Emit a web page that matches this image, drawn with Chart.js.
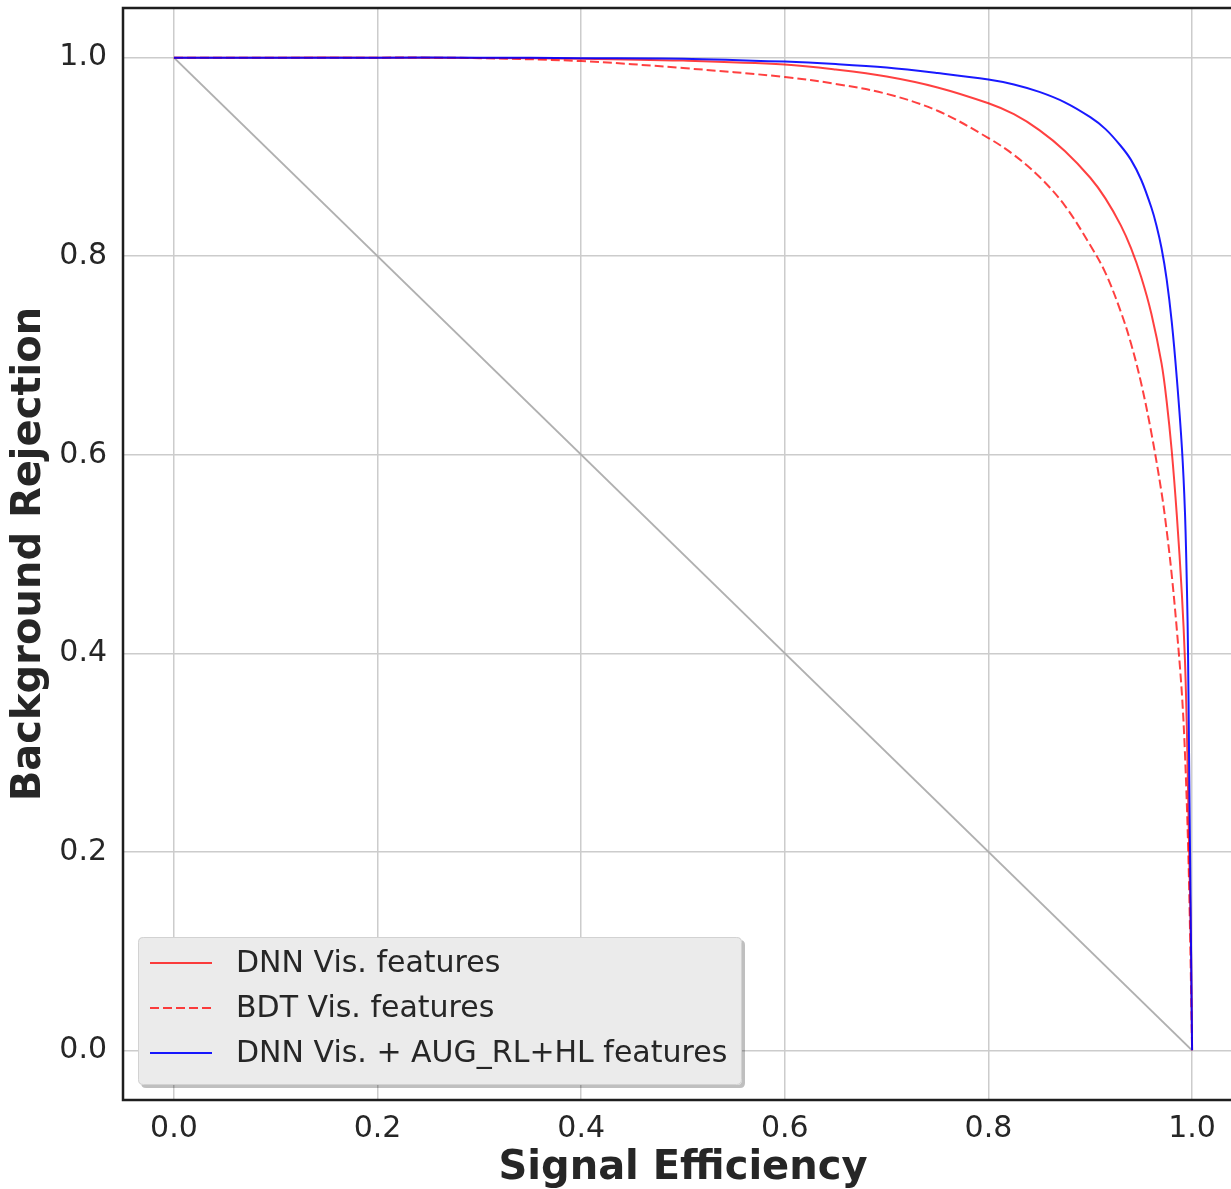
<!DOCTYPE html>
<html><head><meta charset="utf-8">
<script src="https://cdn.jsdelivr.net/npm/chart.js@4.4.0/dist/chart.umd.min.js"></script>
<style>html,body{margin:0;padding:0;background:#fff;overflow:hidden;width:1231px;height:1189px}canvas{display:block}</style>
</head><body>
<canvas id="c" width="1246" height="1189" style="width:1246px;height:1189px"></canvas>
<script>
// ---- data ----
const seriesLabels = ['DNN Vis. features', 'BDT Vis. features', 'DNN Vis. + AUG_RL+HL features'];
const xTickValues = [0.0, 0.2, 0.4, 0.6, 0.8, 1.0];
const yTickValues = [0.0, 0.2, 0.4, 0.6, 0.8, 1.0];

const dnnX = [0, 0.1, 0.2, 0.3, 0.4, 0.5, 0.6, 0.65, 0.7, 0.75, 0.8, 0.825, 0.85, 0.875, 0.9, 0.915, 0.93, 0.94, 0.95, 0.96, 0.97, 0.975, 0.98, 0.985, 0.99, 0.993, 0.995, 0.997, 0.999, 1.0];
const dnnY = [1, 1, 1, 0.9997, 0.999, 0.997, 0.993, 0.988, 0.981, 0.970, 0.954, 0.943, 0.927, 0.906, 0.879, 0.858, 0.831, 0.808, 0.779, 0.742, 0.692, 0.654, 0.604, 0.539, 0.459, 0.393, 0.317, 0.207, 0.097, 0.0];

const bdtX = [0, 0.1, 0.2, 0.25, 0.3, 0.4, 0.5, 0.6, 0.65, 0.7, 0.75, 0.8, 0.825, 0.85, 0.875, 0.9, 0.915, 0.93, 0.94, 0.95, 0.96, 0.97, 0.975, 0.98, 0.985, 0.99, 0.993, 0.996, 0.998, 1.0];
const bdtY = [1, 1, 1, 1, 0.9995, 0.9965, 0.9895, 0.9805, 0.9735, 0.9635, 0.9465, 0.919, 0.902, 0.880, 0.851, 0.811, 0.783, 0.744, 0.712, 0.672, 0.622, 0.562, 0.524, 0.479, 0.424, 0.359, 0.299, 0.209, 0.119, 0.0];

const augX = [0, 0.1, 0.2, 0.3, 0.4, 0.5, 0.6, 0.65, 0.7, 0.75, 0.8, 0.825, 0.85, 0.875, 0.9, 0.915, 0.93, 0.94, 0.95, 0.96, 0.965, 0.97, 0.975, 0.98, 0.985, 0.99, 0.993, 0.995, 0.996, 0.997, 0.998, 0.999, 1.0];
const augY = [1, 1, 1, 1, 0.9995, 0.999, 0.996, 0.9935, 0.990, 0.9845, 0.978, 0.973, 0.9655, 0.955, 0.940, 0.928, 0.911, 0.897, 0.877, 0.849, 0.831, 0.808, 0.777, 0.734, 0.677, 0.607, 0.542, 0.462, 0.402, 0.300, 0.200, 0.100, 0.0];

const diagX = [0, 1];
const diagY = [1, 0];

// ---- helpers ----
const pts = (xs, ys) => xs.map((x, i) => ({x: x, y: ys[i]}));
const FONT = "'DejaVu Sans', 'Liberation Sans', sans-serif";
const TEXT = '#262626';

const datasets = [
  {label: seriesLabels[2], data: pts(augX, augY), borderColor: 'rgba(0,0,255,0.9)', borderWidth: 2, order: 0},
  {label: seriesLabels[0], data: pts(dnnX, dnnY), borderColor: 'rgba(255,0,0,0.75)', borderWidth: 2, order: 1},
  {label: seriesLabels[1], data: pts(bdtX, bdtY), borderColor: 'rgba(255,0,0,0.75)', borderWidth: 2, borderDash: [9, 4], order: 2},
  {label: 'diag', data: pts(diagX, diagY), borderColor: '#b0b0b0', borderWidth: 2, order: 3, tension: 0}
].map(d => Object.assign({showLine: true, pointRadius: 0, pointHoverRadius: 0, fill: false, tension: 0.35}, d));

const framePlugin = {
  id: 'frame',
  afterDatasetsDraw(chart) {
    const {ctx, chartArea: a} = chart;
    ctx.save();
    ctx.strokeStyle = '#1e1e1e';
    ctx.lineWidth = 2.5;
    ctx.strokeRect(a.left, a.top, a.right - a.left, a.bottom - a.top);
    ctx.restore();
  }
};

const legendPlugin = {
  id: 'boxLegend',
  afterDatasetsDraw(chart) {
    const {ctx, chartArea: a} = chart;
    const bx = a.left + 15, by = a.bottom - 163, bw = 604, bh = 148;
    ctx.save();
    ctx.fillStyle = 'rgba(0,0,0,0.25)';
    roundRect(ctx, bx + 3, by + 3, bw, bh, 5); ctx.fill();
    ctx.fillStyle = '#ebebeb';
    roundRect(ctx, bx, by, bw, bh, 5); ctx.fill();
    ctx.strokeStyle = '#d2d2d2'; ctx.lineWidth = 1;
    roundRect(ctx, bx + 0.5, by + 0.5, bw - 1, bh - 1, 5); ctx.stroke();
    const entries = [datasets[1], datasets[2], datasets[0]];
    entries.forEach((d, i) => {
      const y = by + 26 + i * 45;
      ctx.beginPath();
      ctx.strokeStyle = d.borderColor;
      ctx.lineWidth = 2;
      ctx.setLineDash(d.borderDash || []);
      ctx.moveTo(bx + 12, y); ctx.lineTo(bx + 74, y);
      ctx.stroke();
      ctx.setLineDash([]);
      ctx.fillStyle = TEXT;
      ctx.font = '30px ' + FONT;
      ctx.textBaseline = 'middle';
      ctx.textAlign = 'left';
      ctx.fillText(d.label, bx + 98, y + 1);
    });
    ctx.restore();
  }
};
function roundRect(ctx, x, y, w, h, r) {
  ctx.beginPath();
  ctx.moveTo(x + r, y);
  ctx.lineTo(x + w - r, y); ctx.quadraticCurveTo(x + w, y, x + w, y + r);
  ctx.lineTo(x + w, y + h - r); ctx.quadraticCurveTo(x + w, y + h, x + w - r, y + h);
  ctx.lineTo(x + r, y + h); ctx.quadraticCurveTo(x, y + h, x, y + h - r);
  ctx.lineTo(x, y + r); ctx.quadraticCurveTo(x, y, x + r, y);
  ctx.closePath();
}

new Chart(document.getElementById('c'), {
  type: 'scatter',
  data: {datasets: datasets},
  plugins: [framePlugin, legendPlugin],
  options: {
    animation: false,
    responsive: false,
    devicePixelRatio: 1,
    layout: {padding: {top: 8, right: 3, left: 0, bottom: 0}},
    plugins: {legend: {display: false}, tooltip: {enabled: false}},
    scales: {
      x: {
        type: 'linear', min: -0.05, max: 1.05,
        afterBuildTicks: s => { s.ticks = xTickValues.map(v => ({value: v})); },
        afterFit: s => { s.height = 89; s.paddingLeft = 0; s.paddingRight = 0; },
        grid: {color: '#cccccc', lineWidth: 1.5, drawTicks: false},
        border: {display: false},
        ticks: {padding: 11, color: TEXT, font: {family: FONT, size: 30}, callback: v => Number(v).toFixed(1), maxRotation: 0},
        title: {display: true, text: 'Signal Efficiency', color: TEXT, font: {family: FONT, size: 40, weight: 'bold', lineHeight: 1}, padding: {top: 0, bottom: 0}}
      },
      y: {
        type: 'linear', min: -0.05, max: 1.05,
        afterBuildTicks: s => { s.ticks = yTickValues.map(v => ({value: v})); },
        afterFit: s => { s.width = 123; s.paddingTop = 0; s.paddingBottom = 0; },
        grid: {color: '#cccccc', lineWidth: 1.5, drawTicks: false},
        border: {display: false},
        ticks: {padding: 16, color: TEXT, font: {family: FONT, size: 30}, callback: v => Number(v).toFixed(1)},
        title: {display: true, text: 'Background Rejection', color: TEXT, font: {family: FONT, size: 40, weight: 'bold', lineHeight: 1}, padding: {top: 10, bottom: 0}}
      }
    }
  }
});
</script>
</body></html>
